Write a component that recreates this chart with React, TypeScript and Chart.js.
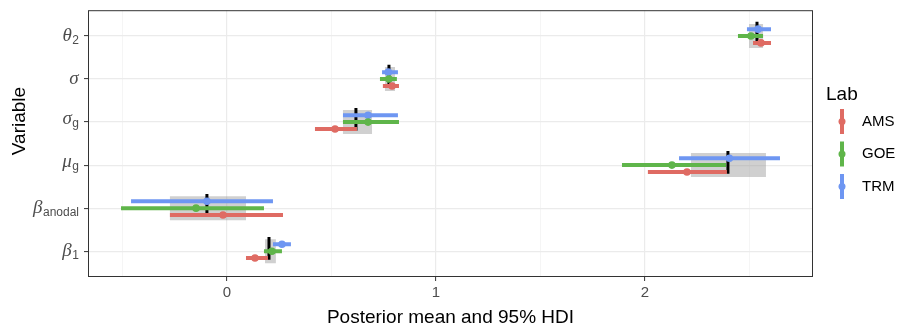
import React, { useEffect, useRef } from 'react';
import { Chart, registerables } from 'chart.js';

Chart.register(...registerables);

// Variables, bottom to top (first char = symbol, rest = subscript)
const variables = ['β1', 'βanodal', 'μg', 'σg', 'σ', 'θ2'];
const labs = ['AMS', 'GOE', 'TRM'];
const labColors = ['#df6b63', '#5fb54a', '#6e96f2'];
const labOffsets = [-0.16, 0, 0.16];

const amsMean = [0.134, -0.019, 2.201, 0.517, 0.790, 2.555];
const amsLow = [0.091, -0.273, 2.014, 0.421, 0.746, 2.517];
const amsHigh = [0.196, 0.268, 2.392, 0.622, 0.823, 2.603];

const goeMean = [0.215, -0.148, 2.129, 0.675, 0.775, 2.507];
const goeLow = [0.177, -0.507, 1.890, 0.555, 0.732, 2.445];
const goeHigh = [0.263, 0.177, 2.388, 0.823, 0.813, 2.565];

const trmMean = [0.263, -0.096, 2.404, 0.675, 0.772, 2.541];
const trmLow = [0.220, -0.459, 2.163, 0.555, 0.742, 2.488];
const trmHigh = [0.306, 0.220, 2.646, 0.818, 0.818, 2.603];

const overallMean = [0.201, -0.096, 2.397, 0.617, 0.775, 2.536];
const overallLow = [0.182, -0.273, 2.220, 0.555, 0.756, 2.498];
const overallHigh = [0.234, 0.091, 2.579, 0.694, 0.804, 2.565];

const xTicks = [-0.5, 0, 0.5, 1, 1.5, 2, 2.5];
const xLabelTicks = [0, 1, 2];

const xTitle = 'Posterior mean and 95% HDI';
const yTitle = 'Variable';
const legendTitle = 'Lab';

const labMeans = [amsMean, goeMean, trmMean];
const labLows = [amsLow, goeLow, trmLow];
const labHighs = [amsHigh, goeHigh, trmHigh];

function buildDatasets() {
  const ds: any[] = [];
  variables.forEach((_, i) => {
    const y = i + 1;
    ds.push({
      data: [{ x: overallLow[i], y }, { x: overallHigh[i], y }],
      showLine: true,
      borderColor: 'rgba(150,150,150,0.45)',
      borderWidth: 24,
      borderCapStyle: 'butt',
      pointRadius: 0,
      order: 10,
    });
    ds.push({
      data: [{ x: overallMean[i], y: y - 0.2 }, { x: overallMean[i], y: y + 0.33 }],
      showLine: true,
      borderColor: '#000000',
      borderWidth: 3,
      borderCapStyle: 'butt',
      pointRadius: 0,
      order: 9,
    });
  });
  labs.forEach((lab, k) => {
    variables.forEach((_, i) => {
      const y = i + 1 + labOffsets[k];
      ds.push({
        data: [{ x: labLows[k][i], y }, { x: labHighs[k][i], y }],
        showLine: true,
        borderColor: labColors[k],
        borderWidth: 4,
        borderCapStyle: 'butt',
        pointRadius: 0,
        order: 5,
      });
    });
    ds.push({
      label: lab,
      data: variables.map((_, i) => ({ x: labMeans[k][i], y: i + 1 + labOffsets[k] })),
      showLine: false,
      backgroundColor: labColors[k],
      borderColor: labColors[k],
      borderWidth: 0,
      pointRadius: 3.8,
      order: 1,
    });
  });
  return ds;
}

const textPlugin = {
  id: 'ggText',
  afterDraw(chart: any) {
    const ctx = chart.ctx as CanvasRenderingContext2D;
    const { left, right, top, bottom } = chart.chartArea;
    ctx.save();
    // panel border
    ctx.strokeStyle = '#333333';
    ctx.lineWidth = 1;
    ctx.strokeRect(left + 0.5, top + 0.5, right - left - 1, bottom - top - 1);

    // y tick labels with subscripts
    const ys = chart.scales.y;
    const mainFont = 'italic 19px "Liberation Serif"';
    const subFont = '12px "Liberation Sans"';
    const subShift = 3;
    const rightX = 79;
    ctx.fillStyle = '#4d4d4d';
    ctx.textAlign = 'left';
    ctx.textBaseline = 'alphabetic';
    variables.forEach((name, i) => {
      const py = ys.getPixelForValue(i + 1);
      const main = name.charAt(0);
      const sub = name.slice(1);
      ctx.font = mainFont;
      const mm = ctx.measureText(main);
      let topRel = -mm.actualBoundingBoxAscent;
      let botRel = mm.actualBoundingBoxDescent;
      let subW = 0;
      if (sub) {
        ctx.font = subFont;
        const sm = ctx.measureText(sub);
        subW = sm.width;
        topRel = Math.min(topRel, subShift - sm.actualBoundingBoxAscent);
        botRel = Math.max(botRel, subShift + sm.actualBoundingBoxDescent);
      }
      const base = py - (topRel + botRel) / 2;
      const startX = rightX - subW - mm.width - 0.5;
      ctx.font = mainFont;
      ctx.fillText(main, startX, base);
      if (sub) {
        ctx.font = subFont;
        ctx.fillText(sub, startX + mm.width + 0.5, base + subShift);
      }
    });

    // axis titles
    ctx.fillStyle = '#000000';
    ctx.font = '19px "Liberation Sans"';
    ctx.textAlign = 'center';
    ctx.textBaseline = 'middle';
    ctx.fillText(xTitle, (left + right) / 2, 318);
    ctx.save();
    ctx.translate(20, 121);
    ctx.rotate(-Math.PI / 2);
    ctx.fillText(yTitle, 0, 0);
    ctx.restore();

    // legend
    ctx.textAlign = 'left';
    ctx.fillText(legendTitle, 826, 95);
    ctx.font = '15px "Liberation Sans"';
    const keyYs = [121.5, 154, 186.5];
    labs.forEach((lab, k) => {
      const cy = keyYs[k];
      ctx.strokeStyle = labColors[k];
      ctx.lineWidth = 4;
      ctx.lineCap = 'butt';
      ctx.beginPath();
      ctx.moveTo(842, cy - 12.5);
      ctx.lineTo(842, cy + 12.5);
      ctx.stroke();
      ctx.fillStyle = labColors[k];
      ctx.beginPath();
      ctx.arc(842, cy, 3.5, 0, Math.PI * 2);
      ctx.fill();
      ctx.fillStyle = '#000000';
      ctx.fillText(lab, 862, cy);
    });
    ctx.restore();
  },
};

export default function App() {
  const ref = useRef<HTMLCanvasElement | null>(null);
  useEffect(() => {
    if (!ref.current) return;
    const chart = new Chart(ref.current, {
      type: 'scatter',
      data: { datasets: buildDatasets() },
      options: {
        animation: false,
        responsive: false,
        devicePixelRatio: 1,
        layout: { padding: { top: 8, right: 86, left: 0, bottom: 0 } },
        plugins: { legend: { display: false }, tooltip: { enabled: false } },
        scales: {
          x: {
            type: 'linear',
            min: -0.665,
            max: 2.804,
            afterBuildTicks: (s: any) => {
              s.ticks = xTicks.map((v) => ({ value: v }));
            },
            afterFit: (s: any) => {
              s.height = 52;
            },
            ticks: {
              autoSkip: false,
              maxRotation: 0,
              padding: 3,
              color: '#4d4d4d',
              font: { family: 'Liberation Sans', size: 15 },
              callback: (v: any) => (xLabelTicks.includes(Number(v)) ? String(v) : ''),
            },
            grid: {
              color: (c: any) => (Number.isInteger(c.tick?.value) ? '#ebebeb' : '#f2f2f2'),
              lineWidth: (c: any) => (Number.isInteger(c.tick?.value) ? 1.2 : 0.8),
              tickColor: (c: any) => (Number.isInteger(c.tick?.value) ? '#333333' : 'rgba(0,0,0,0)'),
              tickLength: 4,
              tickWidth: 1,
            },
            border: { display: false },
            title: { display: false },
          },
          y: {
            type: 'linear',
            min: 0.4,
            max: 6.6,
            afterBuildTicks: (s: any) => {
              s.ticks = variables.map((_, i) => ({ value: i + 1 }));
            },
            afterFit: (s: any) => {
              s.width = 88;
            },
            ticks: { callback: () => '' },
            grid: {
              color: '#ebebeb',
              lineWidth: 1.2,
              tickColor: '#333333',
              tickLength: 4,
              tickWidth: 1,
            },
            border: { display: false },
            title: { display: false },
          },
        },
      },
      plugins: [textPlugin],
    });
    return () => chart.destroy();
  }, []);
  return (
    <div style={{ position: 'fixed', left: 0, top: 0, width: 899, height: 329, background: '#ffffff' }}>
      <canvas ref={ref} width={899} height={329} style={{ width: 899, height: 329, display: 'block' }} />
    </div>
  );
}
